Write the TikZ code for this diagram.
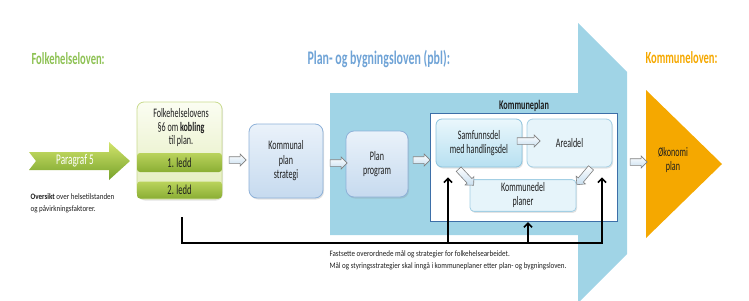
\documentclass[tikz,border=0pt]{standalone}
\usepackage{fontspec}
\setmainfont[FakeStretch=0.62]{Carlito}
\newfontfamily\notefont[FakeStretch=0.85]{Carlito}
\usepackage{tikz}
\usetikzlibrary{positioning,shapes.arrows,arrows.meta,shadows}
\definecolor{PlanSky}{HTML}{A0D4E6}
\definecolor{PlanBlue}{HTML}{6FA3D6}
\definecolor{PlanNavy}{HTML}{3D6FA8}
\definecolor{FolkGreen}{HTML}{8DC153}
\definecolor{KomOrange}{HTML}{F5A800}
\definecolor{BoxTop}{HTML}{EAF2FA}
\definecolor{BoxBottom}{HTML}{C6DAEF}
\definecolor{BoxEdge}{HTML}{8EB1D8}
\definecolor{SamfTop}{HTML}{EAF7FC}
\definecolor{SamfBottom}{HTML}{B7E0F1}
\definecolor{SamfEdge}{HTML}{8CC3DD}
\definecolor{ArealFill}{HTML}{E6F4FA}
\definecolor{ArrowFill}{HTML}{C8DFF0}
\definecolor{ArrowGray}{HTML}{7F7F7F}
\definecolor{FolkTop}{HTML}{FBFDF2}
\definecolor{FolkBottom}{HTML}{E2ECBA}
\definecolor{FolkEdge}{HTML}{C9DB8E}
\definecolor{LeddTop}{HTML}{BAD35C}
\definecolor{LeddBottom}{HTML}{8AAE34}
\definecolor{ParaTop}{HTML}{D2E46C}
\definecolor{ParaBottom}{HTML}{76A22A}
\definecolor{TextGray}{HTML}{1E1E1E}

\tikzset{
  softshadow/.style={drop shadow={opacity=0.22,shadow xshift=1pt,shadow yshift=-1.5pt}},
  boxblue/.style={draw=BoxEdge,line width=0.8pt,rounded corners=8pt,softshadow,
    top color=BoxTop,bottom color=BoxBottom,align=center,text=TextGray,
    font=\fontsize{13}{14.5}\selectfont},
  boxsky/.style={draw=SamfEdge,line width=0.8pt,rounded corners=6pt,softshadow,
    align=center,text=TextGray,font=\fontsize{13}{14}\selectfont},
  leddbar/.style={rounded corners=3pt,top color=LeddTop,bottom color=LeddBottom,
    minimum width=85pt,text=TextGray,font=\fontsize{13.7}{15}\selectfont},
  blockarrow/.style={single arrow,draw=ArrowGray,line width=0.6pt,
    top color=white,bottom color=ArrowFill,minimum height=17pt,
    inner xsep=0pt,inner ysep=3pt,single arrow head extend=2.8pt},
  feedback/.style={line width=1.6pt,-{Straight Barb[length=4pt,width=8pt]}},
  lawtitle/.style={anchor=west,font=\fontsize{17}{19}\selectfont\bfseries},
  smallnote/.style={anchor=north west,align=left,text=TextGray,
    font=\notefont\fontsize{8.3}{12}\selectfont}
}

\begin{document}
\begin{tikzpicture}[x=1pt,y=-1pt]
    \useasboundingbox (0,0) rectangle (749,300);
    \fill[PlanSky] (330,93) -- (578,93) -- (578,23) -- (627,72) -- (627,254)
      -- (578,303) -- (578,235) -- (330,235) -- cycle;
    \fill[KomOrange] (646,90) -- (722,164) -- (646,238) -- cycle;

    \node[lawtitle,text=FolkGreen] (lawfolk) at (28,59) {Folkehelseloven:};
    \node[lawtitle,text=PlanBlue,font=\fontsize{19.2}{21}\selectfont\bfseries]
      (lawpbl) at (304,59) {Plan- og bygningsloven (pbl):};
    \node[lawtitle,text=KomOrange] (lawkom) at (642,58) {Kommuneloven:};

    \shade[top color=ParaTop,bottom color=ParaBottom]
      (29,152) -- (109,152) -- (109,142) -- (130,161) -- (109,180)
      -- (109,170) -- (29,170) -- (36,161) -- cycle;
    \node[text=white,font=\fontsize{14.8}{16}\selectfont] (para) at (75,161) {Paragraf 5};
    \node[smallnote] (oversikt) at (27,190)
      {\textbf{Oversikt} over helsetilstanden\\og påvirkningsfaktorer.};

    \node[draw=FolkEdge,line width=0.8pt,rounded corners=7pt,top color=FolkTop,
      bottom color=FolkBottom,softshadow,minimum width=85pt,minimum height=97pt]
      (folk) at (179.5,150.5) {};
    \node[align=center,text=TextGray,font=\fontsize{13}{13.5}\selectfont]
      (folktxt) at (181,128) {Folkehelselovens\\§6 om \textbf{kobling}\\til plan.};
    \node[leddbar,minimum height=19pt] (ledd1) at (179.5,162.5) {1. ledd};
    \node[leddbar,minimum height=17pt] (ledd2) at (179.5,190) {2. ledd};

    \node[boxblue,minimum width=74pt,minimum height=74pt] (kstrat) at (286,161)
      {Kommunal\\plan\\strategi};
    \node[boxblue,minimum width=62pt,minimum height=66pt] (pprog) at (377,164)
      {Plan\\program};

    \node[draw=PlanNavy,line width=1.3pt,fill=white,minimum width=187pt,
      minimum height=108pt] (kplan) at (524,167.5) {};
    \node[above=-2pt of kplan,text=TextGray,font=\fontsize{13.2}{14}\selectfont\bfseries]
      (kplantitle) {Kommuneplan};
    \node[boxsky,top color=SamfTop,bottom color=SamfBottom,minimum width=86pt,
      minimum height=48pt] (samf) at (479,143) {Samfunnsdel\\med handlingsdel};
    \node[boxsky,draw=SamfEdge!80,fill=ArealFill,minimum width=85pt,
      minimum height=48pt] (areal) at (569.5,143) {Arealdel};
    \node[boxsky,draw=SamfEdge!80,fill=ArealFill,rounded corners=4pt,
      minimum width=106pt,minimum height=29pt] (kdel) at (523,195.5)
      {Kommunedel\\planer};

    \node[align=center,text=TextGray,font=\fontsize{13}{14.5}\selectfont]
      (oko) at (673,160) {Økonomi\\plan};

    \node[blockarrow] (arrfolk) at (236,160) {};
    \node[blockarrow] (arrstrat) at (337,163) {};
    \node[blockarrow] (arrprog) at (420,160) {};
    \node[blockarrow,minimum height=23pt] (arrsamf) at (527,141) {};
    \node[blockarrow,minimum height=22pt,rotate=-47] (arrsamfdel) at (465,176) {};
    \node[blockarrow,minimum height=22pt,rotate=-130] (arrareal) at (585,175) {};
    \node[blockarrow] (arrkom) at (637,162) {};

    \coordinate (busstart) at (182,217);
    \coordinate (busend) at (602,243);
    \coordinate (busA) at (448,243);
    \coordinate (busB) at (528,243);
    \draw[feedback] (busstart) |- (busend) -- ([yshift=-10pt]busend |- areal.south);
    \draw[feedback] (busA) -- ([yshift=-10pt]busA |- samf.south);
    \draw[feedback] (busB) -- (busB |- kplan.south);

    \node[smallnote] (note) at (326,247)
      {Fastsette overordnede mål og strategier for folkehelsearbeidet.\\
       Mål og styringsstrategier skal inngå i kommuneplaner etter plan- og bygningsloven.};
  \end{tikzpicture}
\end{document}
